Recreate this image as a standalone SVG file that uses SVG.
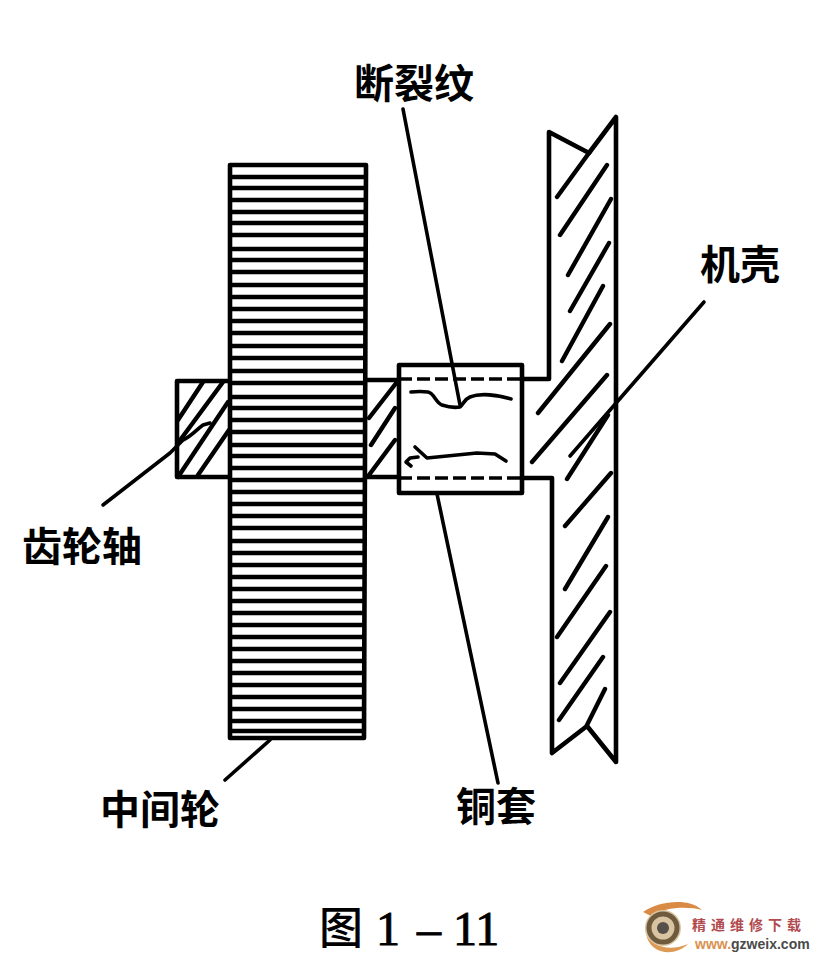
<svg xmlns="http://www.w3.org/2000/svg" width="814" height="960" viewBox="0 0 814 960">
<style>
.o{fill:none;stroke:#000;stroke-width:4.6;stroke-linecap:round;stroke-linejoin:round}
.h{fill:none;stroke:#000;stroke-width:4.4;stroke-linecap:round}
.l{fill:none;stroke:#000;stroke-width:3.6;stroke-linecap:round;stroke-linejoin:round}
.d{fill:none;stroke:#000;stroke-width:3.6;stroke-dasharray:13 5}
.t{font-family:"Noto Sans CJK SC",sans-serif;font-weight:700;font-size:40px;fill:#000}
</style>
<rect width="814" height="960" fill="#fff"/>
<g id="gear">
<path class="o" d="M230 165H366L364 738H230Z"/>
<path class="h" style="stroke-linecap:butt" d="M230 177H366M230 188H366M230 200H366M230 212H366M230 223H366M230 235H366M230 249H366M230 260H366M230 272H366M230 285H366M230 297H366M230 309H366M230 321H366M230 333H366M230 346H366M230 358H366M230 371H366M230 383H365M230 397H365M230 408H365M230 420H365M230 432H365M230 445H365M230 456H365M230 468H365M230 480H365M230 492H365M230 504H365M230 516H365M230 528H365M230 541H365M230 553H365M230 565H365M230 577H365M230 589H365M230 601H365M230 613H365M230 625H365M230 637H365M230 649H364M230 661H364M230 673H364M230 685H364M230 697H364M230 709H364M230 721H364M230 731H364"/>
</g>
<g id="shaft">
<path class="o" d="M228 381H177V477H228M366 380H399M366 477H399"/>
<path class="h" d="M178 420L203 382M178 443L223 382M178 477L228 402M198 475L229 430M369 418L397 382M371 445L395 408M369 475L395 440"/>
</g>
<g id="sleeve">
<rect class="o" x="399" y="365" width="123" height="128"/>
<path class="d" d="M399 379H522M399 478H522"/>
<path class="l" d="M411 392Q420 391 428 392C434 393 436 403 442 405C448 407 454 408 460 407C464 403 465 399 470 397C480 393 497 395 511 399"/>
<path class="l" d="M415 447L427 458L477 453L495 454L506 461M411 466L406 462L410 458L418 457"/>
</g>
<g id="housing">
<path class="o" d="M522 379H549V132L589 153L616 117V762L587 726L552 753V478H522"/>
<path class="h" d="M557 197L589 153M560 235L607 165M568 275L611 199M570 311L609 243M562 361L603 286M538 413L610 324M532 462L607 375M567 479L608 415M565 526L611 473M565 589L608 517M557 637L606 566M560 683L610 612M559 720L603 657M587 725L605 689"/>
</g>
<g id="connectors">
<path class="l" d="M403 109L460 405"/>
<path class="l" d="M704 302L570 456"/>
<path class="l" d="M437 494L498 783"/>
<path class="l" d="M225 780L270 740"/>
<path class="l" d="M103 505L170 453L183 440C192 436 196 430 203 425L210 423"/>
</g>
<g id="labels">
<text class="t" x="354" y="98">断裂纹</text>
<text class="t" x="700" y="279">机壳</text>
<text class="t" x="22" y="561">齿轮轴</text>
<text class="t" x="100" y="824">中间轮</text>
<text class="t" x="456" y="821">铜套</text>
</g>
<g id="caption">
<text x="319" y="944" style="font-family:'Noto Sans CJK SC',sans-serif;font-size:44px;font-weight:500">图</text>
<text y="945" style="font-family:'Liberation Serif',serif;font-size:48px;font-weight:400;stroke:#000;stroke-width:.9"><tspan x="376">1</tspan><tspan x="417">–</tspan><tspan x="453">11</tspan></text>
</g>
<g id="logo">
<path d="M643 912C660 900 690 898 702 910C688 906 664 907 651 916Z" fill="#d98a45"/>
<path d="M646 934C652 948 672 951 688 944C675 957 650 955 646 934Z" fill="#dd9a55"/>
<circle cx="663" cy="928" r="18" fill="#d8c4a0"/>
<circle cx="663" cy="928" r="14" fill="none" stroke="#6e5a3c" stroke-width="5"/>
<circle cx="663" cy="928" r="6" fill="#55504a"/>
<text x="692" y="930" style="font-family:'Noto Sans CJK SC',sans-serif;font-weight:700;font-size:14px;letter-spacing:5px;fill:#b04a4e">精通维修下载</text>
<text x="695" y="949" style="font-family:'Liberation Sans',sans-serif;font-weight:700;font-size:14px;fill:#4a4a4a"><tspan fill="#d9924f">www.</tspan>gzweix.com</text>
</g>
</svg>
